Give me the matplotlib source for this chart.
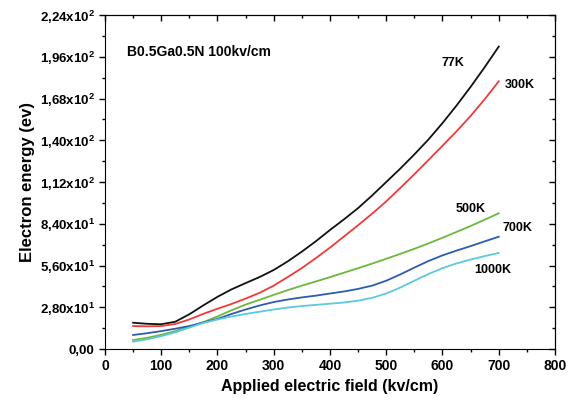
import matplotlib
matplotlib.use("Agg")
import matplotlib.pyplot as plt
from matplotlib.ticker import MultipleLocator, FuncFormatter

# ========== Data ==========
field = [50, 75, 100, 125, 150, 175, 200, 225, 250, 275, 300, 325, 350, 375,
         400, 425, 450, 475, 500, 525, 550, 575, 600, 625, 650, 675, 700]

e_77k = [17.6, 16.9, 16.6, 18.3, 23.3, 29.3, 35.0, 40.0, 44.2, 48.3, 53.0, 58.8, 65.3, 72.3,
         79.8, 87.0, 94.5, 103.0, 112.0, 121.0, 130.5, 140.5, 151.5, 163.3, 175.8, 189.0, 202.8]
e_300k = [15.4, 15.2, 15.4, 16.8, 19.8, 23.6, 27.0, 30.2, 33.8, 37.7, 42.5, 48.3, 54.3, 61.0,
          68.0, 75.5, 83.0, 90.8, 99.0, 108.0, 117.2, 126.7, 136.3, 146.0, 156.3, 167.5, 179.5]
e_500k = [6.0, 7.5, 9.5, 12.0, 14.8, 18.0, 21.8, 26.0, 29.8, 33.0, 36.3, 39.5, 42.5, 45.3,
          48.2, 51.2, 54.2, 57.3, 60.5, 63.8, 67.2, 70.8, 74.6, 78.5, 82.5, 86.7, 91.0]
e_700k = [9.4, 10.6, 12.0, 13.6, 15.4, 17.8, 20.2, 23.5, 26.5, 29.2, 31.5, 33.2, 34.6, 35.8,
          37.2, 38.6, 40.3, 42.5, 45.8, 50.0, 54.6, 59.0, 62.8, 66.0, 69.0, 72.2, 75.3]
e_1000k = [4.9, 6.5, 8.6, 11.2, 14.4, 17.5, 19.8, 21.8, 23.5, 25.0, 26.5, 27.8, 28.8, 29.6,
           30.4, 31.2, 32.4, 34.3, 37.2, 41.2, 45.8, 50.3, 54.2, 57.4, 60.0, 62.3, 64.4]

series = [
    ("77K", e_77k, "#111111", (619, 192)),
    ("300K", e_300k, "#f03a3a", (738, 177)),
    ("500K", e_500k, "#6cb83c", (650, 94)),
    ("700K", e_700k, "#2b5cb0", (733, 81)),
    ("1000K", e_1000k, "#5cc9dc", (690, 53)),
]

plt.rcParams["font.family"] = ["Liberation Sans", "DejaVu Sans"]
plt.rcParams["font.weight"] = "bold"
plt.rcParams["mathtext.fontset"] = "custom"
plt.rcParams["mathtext.rm"] = "Liberation Sans:bold"
plt.rcParams["mathtext.default"] = "rm"


def sci_label(v, pos):
    if v == 0:
        return "0,00"
    exp = 0
    m = v
    while m >= 10:
        m /= 10
        exp += 1
    return ("%.2f" % m).replace(".", ",") + "x10$^{%d}$" % exp


fig = plt.figure(figsize=(5.75, 4), dpi=100)
ax = fig.add_axes([0.1826, 0.1275, 0.7826, 0.835])

for name, vals, color, pos in series:
    ax.plot(field, vals, color=color, lw=1.3)
    ax.text(pos[0], pos[1], name, fontsize=9, fontweight="bold",
            ha="center", va="center")

ax.text(39, 199, "B0.5Ga0.5N 100kv/cm", fontsize=10, fontweight="bold",
        ha="left", va="center")

ax.set_xlim(0, 800)
ax.set_ylim(0, 224)
ax.xaxis.set_major_locator(MultipleLocator(100))
ax.xaxis.set_minor_locator(MultipleLocator(50))
ax.yaxis.set_major_locator(MultipleLocator(28))
ax.yaxis.set_minor_locator(MultipleLocator(14))
ax.yaxis.set_major_formatter(FuncFormatter(sci_label))
ax.tick_params(which="both", direction="out", width=1)
ax.tick_params(axis="x", labelsize=10)
ax.tick_params(axis="y", labelsize=9.5)
ax.tick_params(which="major", length=4)
ax.tick_params(which="minor", length=2.5)
for lab in ax.get_xticklabels() + ax.get_yticklabels():
    lab.set_fontweight("bold")

# mirrored ticks pointing inward on top and right
top = ax.secondary_xaxis("top")
top.xaxis.set_major_locator(MultipleLocator(100))
top.xaxis.set_minor_locator(MultipleLocator(50))
top.tick_params(which="both", direction="in", labeltop=False, width=1)
top.tick_params(which="major", length=4)
top.tick_params(which="minor", length=2.5)
right = ax.secondary_yaxis("right")
right.yaxis.set_major_locator(MultipleLocator(28))
right.yaxis.set_minor_locator(MultipleLocator(14))
right.tick_params(which="both", direction="in", labelright=False, width=1)
right.tick_params(which="major", length=4)
right.tick_params(which="minor", length=2.5)

ax.set_xlabel("Applied electric field (kv/cm)", fontsize=11.5, fontweight="bold")
ax.set_ylabel("Electron energy (ev)", fontsize=12, fontweight="bold", labelpad=3)

fig.savefig("out.png", dpi=100)
